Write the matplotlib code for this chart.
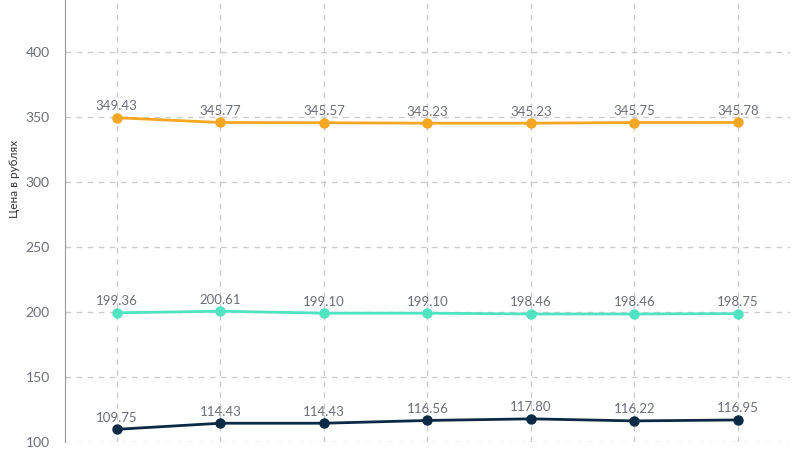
import numpy as np
import matplotlib
matplotlib.use('Agg')
import matplotlib.pyplot as plt

plt.rcParams['font.family'] = ['Lato', 'DejaVu Sans']

categories = ['1', '2', '3', '4', '5', '6', '7']
orange_vals = [349.43, 345.77, 345.57, 345.23, 345.23, 345.75, 345.78]
teal_vals = [199.36, 200.61, 199.10, 199.10, 198.46, 198.46, 198.75]
navy_vals = [109.75, 114.43, 114.43, 116.56, 117.80, 116.22, 116.95]

series = [(orange_vals, '#F5A623'), (teal_vals, '#50E3C2'), (navy_vals, '#0B2A45')]

fig = plt.figure(figsize=(8, 4.5), dpi=100)
ax = fig.add_axes([0.08125, 0.0178, 0.906, 0.9822])
x = np.arange(len(categories))

for vals, col in series:
    ax.plot(x, vals, color=col, lw=2, marker='o', ms=6.5, zorder=3)
    for xi, v in zip(x, vals):
        ax.annotate(f'{v:.2f}', (xi, v), xytext=(0, 4), textcoords='offset points',
                    ha='center', va='bottom', fontsize=9.5, color='#6b6f7a', zorder=4)

ax.set_xlim(-0.5, 6.5)
ax.set_ylim(100, 440)
ax.set_yticks([100, 150, 200, 250, 300, 350, 400])
ax.set_xticks(x)
ax.set_xticklabels([])
ax.tick_params(axis='both', length=0, labelsize=10, labelcolor='#6b6f7a')
ax.tick_params(axis='y', pad=11)
ax.grid(True, color='#cccccc', linestyle=(0, (4, 4)), lw=1)
for s in ['top', 'right', 'bottom']:
    ax.spines[s].set_visible(False)
ax.spines['left'].set_color('#999999')
ax.set_ylabel('Цена в рублях', fontsize=8.5, color='#333333')
ax.yaxis.set_label_coords(-0.062, 0.595)

fig.savefig('out.png', dpi=100)
